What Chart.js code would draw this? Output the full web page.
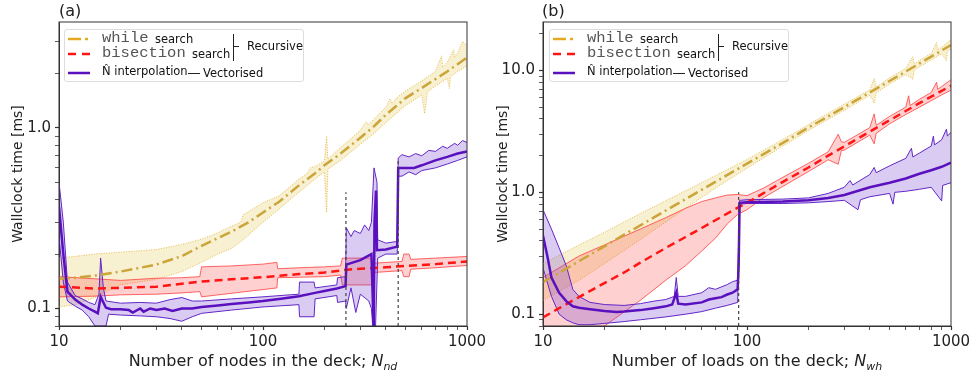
<!DOCTYPE html>
<html>
<head>
<meta charset="utf-8">
<script src="https://cdn.jsdelivr.net/npm/chart.js@4.4.1/dist/chart.umd.min.js"></script>
<style>
body { margin: 0; background: #fff; font-family: 'DejaVu Sans', sans-serif; color: #222; }
#wrap { position: relative; width: 971px; height: 376px; overflow: hidden; }
.panel { position: absolute; top: 0; }
.plabel { position: absolute; top: 1px; font-size: 16px; }
.xtitle { position: absolute; top: 351px; width: 408px; font-size: 16px; text-align: center; white-space: nowrap; }
.xtitle sub { font-size: 11px; font-style: italic; }
.legend { position: absolute; top: 29px; width: 240px; height: 53px; border: 1px solid #ddd; border-radius: 3px; background: rgba(255,255,255,0.85); box-sizing: border-box; }
.legend span, .legend svg, .legend div { position: absolute; white-space: nowrap; }
.mono { font-family: 'Liberation Mono', monospace; font-size: 15.5px; color: #555; }
.sm { font-size: 11.5px; color: #111; }
</style>
</head>
<body>
<div id="wrap">
  <canvas id="chartA" class="panel" width="485" height="376" style="left:0"></canvas>
  <canvas id="chartB" class="panel" width="486" height="376" style="left:485px"></canvas>
  <div class="plabel" style="left:59px">(a)</div>
  <div class="plabel" style="left:542px">(b)</div>
  <div class="xtitle" style="left:59px">Number of nodes in the deck; <i>N</i><sub>nd</sub></div>
  <div class="xtitle" style="left:543px">Number of loads on the deck; <i>N</i><sub>wh</sub></div>
  <div class="legend" style="left:64px"></div>
  <div class="legend" style="left:549px"></div>
</div>
<script>
// panel (a): nodes in the deck
const whileMeanA = [[10,0.146],[12,0.148],[15,0.152],[20,0.16],[25,0.168],[30,0.175],[40,0.195],[50,0.222],[60,0.245],[70,0.266],[85,0.3],[100,0.34],[120,0.39],[150,0.48],[180,0.56],[200,0.62],[240,0.72],[300,0.88],[350,1.02],[400,1.18],[450,1.32],[500,1.46],[600,1.66],[700,1.86],[800,2.05],[900,2.25],[1000,2.45]];
const whileHiA = [[10,0.19],[15,0.2],[20,0.205],[30,0.212],[40,0.226],[50,0.242],[60,0.262],[70,0.285],[78,0.3],[80,0.33],[100,0.385],[120,0.42],[150,0.52],[165,0.56],[170,0.6],[180,0.61],[200,0.655],[205,0.9],[208,0.67],[240,0.78],[260,0.84],[300,0.97],[320,1.08],[330,1.04],[350,1.12],[400,1.3],[420,1.45],[430,1.36],[450,1.46],[500,1.6],[600,1.82],[700,2.05],[750,2.5],[760,2.15],[800,2.3],[860,2.7],[870,2.45],[900,2.6],[950,3.0],[1000,2.85]];
const whileLoA = [[10,0.102],[12,0.105],[15,0.115],[20,0.135],[30,0.145],[40,0.16],[50,0.18],[60,0.2],[70,0.215],[80,0.24],[100,0.3],[120,0.355],[150,0.44],[180,0.52],[200,0.57],[205,0.34],[208,0.59],[240,0.66],[300,0.81],[350,0.93],[400,1.07],[450,1.2],[500,1.33],[600,1.52],[620,1.2],[640,1.58],[700,1.7],[800,1.88],[820,1.65],[830,1.92],[900,2.05],[1000,2.2]];
const bisMeanA = [[10,0.132],[15,0.129],[20,0.13],[30,0.132],[40,0.137],[50,0.141],[70,0.145],[100,0.149],[150,0.155],[200,0.158],[260,0.164],[300,0.166],[400,0.169],[500,0.172],[700,0.176],[1000,0.182]];
const bisHiA = [[10,0.15],[15,0.146],[20,0.143],[30,0.147],[40,0.148],[49,0.15],[50,0.17],[70,0.172],[100,0.176],[117,0.18],[118,0.166],[150,0.168],[200,0.17],[240,0.172],[245,0.19],[340,0.19],[345,0.178],[480,0.182],[490,0.2],[520,0.2],[530,0.187],[700,0.19],[1000,0.194]];
const bisLoA = [[10,0.116],[15,0.117],[20,0.119],[30,0.12],[40,0.122],[49,0.124],[50,0.116],[117,0.13],[118,0.148],[200,0.15],[240,0.153],[245,0.135],[340,0.135],[345,0.158],[480,0.162],[490,0.15],[520,0.15],[530,0.165],[700,0.168],[1000,0.173]];
const interpMeanA = [[10,0.366],[10.5,0.2],[11,0.124],[12,0.112],[13,0.105],[14,0.1],[15,0.096],[15.5,0.094],[16,0.116],[17,0.101],[18,0.099],[20,0.099],[22,0.098],[23,0.095],[25,0.1],[26,0.096],[28,0.1],[30,0.098],[33,0.1],[36,0.097],[40,0.1],[45,0.1],[50,0.102],[60,0.104],[70,0.106],[85,0.108],[100,0.11],[120,0.113],[150,0.117],[180,0.122],[200,0.125],[230,0.129],[254,0.133],[256,0.175],[300,0.185],[340,0.2],[349,0.075],[352,0.3],[358,0.45],[362,0.21],[400,0.212],[455,0.22],[460,0.6],[480,0.6],[550,0.6],[600,0.62],[700,0.66],[800,0.69],[900,0.72],[1000,0.74]];
const interpHiA = [[10,0.5],[10.5,0.3],[11,0.14],[12,0.118],[13,0.113],[14,0.108],[15,0.105],[15.7,0.12],[16,0.19],[16.5,0.13],[17,0.11],[20,0.107],[25,0.108],[30,0.107],[35,0.112],[40,0.115],[45,0.11],[50,0.11],[70,0.113],[100,0.116],[150,0.12],[151,0.14],[178,0.14],[180,0.13],[230,0.135],[232,0.148],[254,0.15],[256,0.28],[270,0.25],[280,0.27],[300,0.26],[315,0.29],[330,0.27],[340,0.3],[350,0.6],[362,0.5],[365,0.24],[400,0.23],[455,0.235],[460,0.68],[480,0.71],[520,0.69],[560,0.72],[600,0.7],[650,0.75],[700,0.74],[760,0.79],[800,0.77],[870,0.82],[900,0.8],[950,0.85],[1000,0.83]];
const interpLoA = [[10,0.25],[10.5,0.14],[11,0.11],[12,0.103],[13,0.098],[14,0.09],[15,0.08],[17,0.08],[17.5,0.093],[20,0.092],[25,0.091],[30,0.09],[35,0.088],[40,0.085],[45,0.09],[50,0.094],[70,0.098],[100,0.102],[150,0.105],[151,0.09],[178,0.09],[180,0.113],[230,0.118],[232,0.108],[254,0.11],[256,0.1],[270,0.13],[285,0.095],[300,0.12],[330,0.11],[340,0.1],[348,0.07],[355,0.07],[365,0.19],[400,0.2],[455,0.2],[460,0.54],[480,0.54],[520,0.57],[560,0.55],[600,0.58],[700,0.6],[800,0.63],[900,0.66],[1000,0.69]];
const markA1 = [[255,0.08],[255,0.44]];
const markA2 = [[460,0.08],[460,0.66]];

// panel (b): loads on the deck
const whileMeanB = [[10,0.183],[12,0.219],[15,0.272],[20,0.36],[25,0.45],[30,0.535],[40,0.71],[50,0.88],[60,1.05],[70,1.22],[85,1.47],[100,1.72],[120,2.05],[150,2.55],[200,3.4],[250,4.2],[300,5.0],[400,6.6],[500,8.2],[600,9.8],[700,11.4],[800,13.0],[900,14.6],[1000,16.2]];
const whileHiB = [[10,0.26],[15,0.37],[20,0.47],[30,0.67],[50,1.03],[70,1.37],[100,1.86],[150,2.72],[200,3.6],[300,5.3],[400,6.95],[420,8.6],[430,7.3],[500,8.7],[600,10.4],[650,13],[660,11.3],[700,12.1],[800,13.8],[850,17],[860,14.8],[900,15.5],[1000,18]];
const whileLoB = [[10,0.13],[15,0.19],[20,0.26],[30,0.41],[50,0.74],[70,1.08],[100,1.58],[150,2.4],[200,3.22],[300,4.72],[400,6.25],[420,5.4],[430,6.55],[500,7.75],[600,9.25],[650,8.5],[660,10],[700,10.7],[800,12.2],[900,13.7],[950,12],[960,14.4],[1000,14.9]];
const bisMeanB = [[10,0.094],[12,0.112],[15,0.138],[20,0.18],[25,0.22],[30,0.265],[40,0.35],[50,0.43],[60,0.51],[70,0.59],[85,0.71],[100,0.82],[120,0.98],[150,1.22],[200,1.6],[250,2.0],[300,2.38],[400,3.15],[500,3.9],[600,4.65],[700,5.4],[800,6.1],[900,6.8],[1000,7.5]];
const bisHiB = [[10,0.2],[15,0.3],[20,0.37],[30,0.5],[40,0.62],[50,0.74],[60,0.84],[70,0.9],[80,0.95],[90,0.96],[100,0.94],[120,1.08],[150,1.33],[200,1.73],[250,2.15],[280,3.0],[290,2.6],[300,2.57],[400,3.4],[420,4.4],[430,3.55],[500,4.2],[600,5.0],[620,6.2],[630,5.15],[700,5.8],[800,6.6],[850,8],[860,7.0],[900,7.4],[1000,8.4]];
const bisLoB = [[10,0.055],[15,0.065],[20,0.08],[30,0.13],[40,0.19],[50,0.25],[60,0.33],[70,0.42],[80,0.55],[90,0.66],[100,0.72],[120,0.9],[150,1.12],[200,1.48],[250,1.85],[280,1.7],[290,2.2],[300,2.22],[400,2.95],[420,2.5],[430,3.05],[500,3.65],[600,4.35],[700,5.0],[800,5.65],[900,6.3],[1000,6.9]];
const interpMeanB = [[10,0.44],[10.5,0.3],[11,0.2],[12,0.15],[13,0.128],[14,0.116],[15,0.113],[17,0.11],[20,0.106],[23,0.104],[25,0.105],[30,0.108],[35,0.112],[40,0.116],[43,0.12],[45,0.15],[46,0.122],[50,0.12],[60,0.125],[65,0.132],[70,0.135],[75,0.138],[80,0.145],[85,0.15],[90,0.16],[91,0.25],[92,0.82],[100,0.83],[150,0.84],[200,0.86],[250,0.9],[300,0.95],[400,1.1],[500,1.2],[600,1.3],[700,1.42],[800,1.52],[900,1.62],[1000,1.75]];
const interpHiB = [[10,0.72],[11,0.5],[12,0.35],[13,0.25],[14,0.16],[15,0.14],[17,0.125],[20,0.12],[25,0.118],[30,0.122],[35,0.128],[40,0.132],[44,0.14],[45,0.2],[46,0.14],[50,0.14],[60,0.15],[65,0.165],[70,0.16],[80,0.175],[85,0.185],[90,0.19],[92,0.86],[100,0.87],[150,0.88],[200,0.9],[250,0.98],[300,1.1],[320,1.25],[330,1.15],[400,1.4],[420,1.6],[430,1.45],[500,1.65],[600,1.9],[640,2.3],[650,1.95],[700,2.1],[800,2.4],[820,2.9],[830,2.45],[900,2.7],[950,3.3],[960,2.9],[1000,3.1]];
const interpLoB = [[10,0.24],[11,0.14],[12,0.1],[13,0.09],[14,0.085],[15,0.082],[17,0.082],[20,0.084],[25,0.087],[30,0.09],[40,0.095],[50,0.1],[60,0.105],[70,0.112],[80,0.118],[90,0.125],[92,0.8],[100,0.81],[150,0.81],[200,0.82],[250,0.84],[300,0.86],[350,0.72],[360,0.87],[400,0.92],[500,0.98],[520,0.8],[530,1.0],[600,1.02],[700,1.06],[800,1.1],[900,0.85],[910,1.14],[1000,1.2]];
const markB = [[91,0.08],[91,1.0]];

const yRangeA = [0.08, 3.85];
const yRangeB = [0.08, 25];

const gold = '#cca53a', red = '#ff1414', purple = '#5a10be';

const xy = arr => arr.map(([x, y]) => ({ x, y }));

const isNice = v => {
    const m = v / Math.pow(10, Math.floor(Math.log10(v) + 1e-9));
    return Math.abs(m - Math.round(m)) < 1e-6;
};
const isDecade = v => Math.abs(Math.log10(v) - Math.round(Math.log10(v))) < 1e-6;

const frame = {
    id: 'frame',
    afterDraw(chart) {
        const { ctx, chartArea: a } = chart;
        ctx.save();
        ctx.strokeStyle = '#333';
        ctx.lineWidth = 1;
        ctx.strokeRect(a.left, a.top, a.right - a.left, a.bottom - a.top);
        ctx.restore();
    }
};

const band = (data, edge, fill, dash, width, order) => ({
    data: xy(data), borderColor: edge, borderWidth: width, borderDash: dash,
    backgroundColor: fill, fill: fill ? '-1' : false, pointRadius: 0, order
});
const line = (data, color, dash, width, order) => ({
    data: xy(data), borderColor: color, borderWidth: width, borderDash: dash,
    fill: false, pointRadius: 0, order
});

function makePanel(id, d, yRange, yWidth, rightPad) {
    new Chart(document.getElementById(id), {
        type: 'line',
        data: {
            datasets: [
                band(d.wLo, '#e8b43a', null, [1, 1.5], 0.9, 7),
                band(d.wHi, '#e8b43a', 'rgba(232,212,120,0.34)', [1, 1.5], 0.9, 7),
                band(d.bLo, '#ff4040', null, [], 0.8, 6),
                band(d.bHi, '#ff4040', 'rgba(255,40,40,0.22)', [], 0.8, 6),
                band(d.iLo, '#6226c8', null, [], 1, 5),
                band(d.iHi, '#6226c8', 'rgba(120,70,210,0.28)', [], 1, 5),
                line(d.wMean, gold, [11, 4, 2, 4], 2.5, 4),
                line(d.bMean, red, [8, 5], 2.5, 3),
                line(d.iMean, purple, [], 2.5, 2),
                ...d.marks.map(m => line(m, '#444', [3, 3], 1.2, 1))
            ]
        },
        options: {
            responsive: false,
            animation: false,
            devicePixelRatio: 1,
            layout: { padding: { top: 22, right: rightPad, left: 0, bottom: 0 } },
            plugins: { legend: { display: false }, tooltip: { enabled: false } },
            scales: {
                x: {
                    type: 'logarithmic', min: 10, max: 1000,
                    afterFit: s => { s.height = 50; s.paddingLeft = 0; s.paddingRight = 0; },
                    grid: {
                        drawOnChartArea: false, tickLength: 4,
                        tickColor: c => isNice(c.tick.value) ? '#333' : 'rgba(0,0,0,0)',
                        tickWidth: c => isDecade(c.tick.value) ? 1.2 : 0.8
                    },
                    border: { color: '#333' },
                    ticks: {
                        autoSkip: false, maxRotation: 0, padding: 3,
                        color: '#222', font: { family: 'DejaVu Sans', size: 15 },
                        callback: v => isDecade(v) ? String(Math.round(v)) : ''
                    }
                },
                y: {
                    type: 'logarithmic', min: yRange[0], max: yRange[1],
                    afterFit: s => { s.width = yWidth; },
                    grid: {
                        drawOnChartArea: false, tickLength: 4,
                        tickColor: c => isNice(c.tick.value) ? '#333' : 'rgba(0,0,0,0)',
                        tickWidth: c => isDecade(c.tick.value) ? 1.2 : 0.8
                    },
                    border: { color: '#333' },
                    title: {
                        display: true, text: 'Wallclock time [ms]', color: '#222',
                        font: { family: 'DejaVu Sans', size: 14 }, padding: { top: 10, bottom: 0 }
                    },
                    ticks: {
                        autoSkip: false, padding: 4,
                        color: '#222', font: { family: 'DejaVu Sans', size: 15 },
                        callback: v => isDecade(v) ? v.toFixed(1) : ''
                    }
                }
            }
        },
        plugins: [frame]
    });
}

makePanel('chartA', {
    wMean: whileMeanA, wHi: whileHiA, wLo: whileLoA,
    bMean: bisMeanA, bHi: bisHiA, bLo: bisLoA,
    iMean: interpMeanA, iHi: interpHiA, iLo: interpLoA,
    marks: [markA1, markA2]
}, yRangeA, 59, 18);

makePanel('chartB', {
    wMean: whileMeanB, wHi: whileHiB, wLo: whileLoB,
    bMean: bisMeanB, bHi: bisHiB, bLo: bisLoB,
    iMean: interpMeanB, iHi: interpHiB, iLo: interpLoB,
    marks: [markB]
}, yRangeB, 58, 20);

// legends
const legendHtml = `
    <svg style="left:3px;top:6px" width="24" height="6"><line x1="0" y1="3" x2="13" y2="3" stroke="#e5a823" stroke-width="2.5"/><line x1="17" y1="3" x2="20" y2="3" stroke="#e5a823" stroke-width="2.5"/></svg>
    <span class="mono" style="left:37px;top:-1px">while</span>
    <span class="sm" style="left:90px;top:2px">search</span>
    <svg style="left:3px;top:21px" width="24" height="6"><line x1="0" y1="3" x2="8" y2="3" stroke="#ff1414" stroke-width="2.5"/><line x1="14" y1="3" x2="22" y2="3" stroke="#ff1414" stroke-width="2.5"/></svg>
    <span class="mono" style="left:37px;top:14px">bisection</span>
    <span class="sm" style="left:127px;top:17px">search</span>
    <div style="left:168px;top:4px;width:1px;height:27px;background:#222"></div>
    <div style="left:168px;top:16px;width:6px;height:1px;background:#222"></div>
    <span class="sm" style="left:182px;top:9px">Recursive</span>
    <svg style="left:3px;top:40px" width="24" height="6"><line x1="0" y1="3" x2="22" y2="3" stroke="#5a10be" stroke-width="2.5"/></svg>
    <span class="sm" style="left:37px;top:34px">N&#770; interpolation</span>
    <div style="left:123px;top:43px;width:12px;height:1px;background:#222"></div>
    <span class="sm" style="left:138px;top:36px">Vectorised</span>`;

document.querySelectorAll('.legend').forEach(l => { l.innerHTML = legendHtml; });
</script>
</body>
</html>
